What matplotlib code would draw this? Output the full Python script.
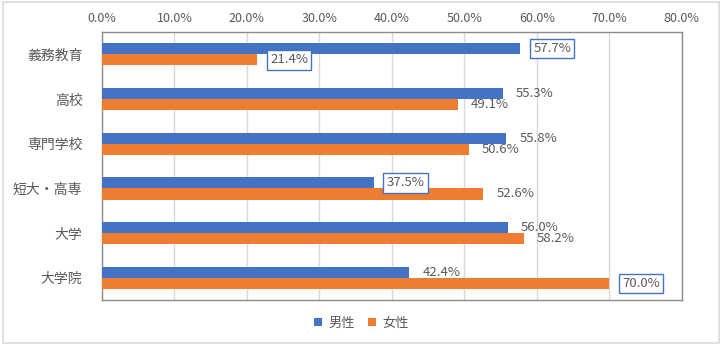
import matplotlib
matplotlib.use("Agg")
import matplotlib.pyplot as plt
from matplotlib.patches import Rectangle
import numpy as np

plt.rcParams['font.family'] = ['Noto Sans CJK JP', 'DejaVu Sans']

categories = ['義務教育', '高校', '専門学校', '短大・高専', '大学', '大学院']
male = [57.7, 55.3, 55.8, 37.5, 56.0, 42.4]
female = [21.4, 49.1, 50.6, 52.6, 58.2, 70.0]
series_names = ['男性', '女性']
# labels drawn with a box (male index, female index)
boxed_male = [0, 3]
boxed_female = [0, 5]

blue = '#4472C4'
orange = '#ED7D31'
txt = '#595959'

fig = plt.figure(figsize=(7.23, 3.47), dpi=100)
fig.patches.append(Rectangle((0.004, 0.012), 0.991, 0.982, transform=fig.transFigure,
                             fill=False, edgecolor='#D9D9D9', linewidth=1.2))
ax = fig.add_axes([0.141, 0.135, 0.802, 0.773])

y = np.arange(len(categories))
h = 0.25
ax.barh(y - h / 2, male, height=h, color=blue, label=series_names[0], zorder=3)
ax.barh(y + h / 2, female, height=h, color=orange, label=series_names[1], zorder=3)

for i, v in enumerate(male):
    box = dict(boxstyle='square,pad=0.25', fc='white', ec=blue, lw=1) if i in boxed_male else None
    ax.text(v + 1.8, y[i] - h / 2, f'{v:.1f}%', va='center', ha='left', fontsize=9.5,
            color=txt, bbox=box, zorder=4)
for i, v in enumerate(female):
    box = dict(boxstyle='square,pad=0.25', fc='white', ec=blue, lw=1) if i in boxed_female else None
    ax.text(v + 1.8, y[i] + h / 2, f'{v:.1f}%', va='center', ha='left', fontsize=9.5,
            color=txt, bbox=box, zorder=4)

ax.set_xlim(0, 80)
ax.set_ylim(len(categories) - 0.5, -0.5)
ax.set_xticks(np.arange(0, 81, 10))
ax.set_xticklabels([f'{t:.1f}%' for t in np.arange(0, 81, 10)])
ax.xaxis.tick_top()
ax.set_yticks(y)
ax.set_yticklabels(categories)
ax.tick_params(axis='x', length=0, pad=5, labelsize=9, colors=txt)
ax.tick_params(axis='y', length=0, pad=14, labelsize=10, colors=txt)
ax.grid(axis='x', color='#D9D9D9', linewidth=1, zorder=0)
for s in ax.spines.values():
    s.set_color('#8C8C8C')
    s.set_linewidth(1)

leg = fig.legend(loc='center', bbox_to_anchor=(0.5, 0.068), ncol=2, frameon=False,
                 fontsize=9.5, handlelength=0.6, handleheight=0.6, columnspacing=1.0,
                 handletextpad=0.5)
for t in leg.get_texts():
    t.set_color(txt)

fig.savefig('out.png', dpi=100)
